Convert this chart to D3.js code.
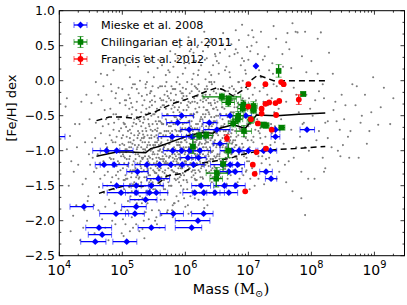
<!DOCTYPE html>
<html>
<head>
<meta charset="utf-8">
<script src="https://cdn.jsdelivr.net/npm/d3@7"></script>
<style>
  body { margin: 0; background: #fff; }
  text { font-family: "DejaVu Sans", sans-serif; }
</style>
</head>
<body>
<svg id="chart" width="407" height="305"></svg>
<script>
// simulated clusters, "log10(M)*100,[Fe/H]*100"
const simPoints = `
410,-37 417,-79 425,-62 430,-120 415,-150 422,-193 438,-210 445,-172 428,-95 442,-140 448,-55 435,-30 419,-115 447,-105 440,-185 433,-228 446,-165 412,-98
452,-88 455,-130 458,-60 461,-105 463,-152 466,-75 468,-198 470,-115 472,-42 474,-90 455,-178 459,-125 462,-20 465,-140 467,-100 469,-65 471,-160 473,-210 457,-82 460,-230 464,-118 470,-8 472,-135 474,-55 453,-110
476,-95 477,-130 478,-62 479,-170 480,-110 481,-40 482,-145 483,-85 484,-200 485,-120 486,-70 487,-155 488,-100 489,-25 490,-135 491,-80 492,-190 493,-115 494,-55 495,-160 496,-92 497,-128 498,-68 499,-218 476,-150 478,-102 480,-78 482,-5 484,-138 486,-112 488,-175 490,-48 492,-98 494,-140 496,-32 498,-108 485,-88 491,-122 487,-60 495,-72
500,-90 501,-125 502,-60 503,-155 504,-110 505,-35 506,-140 507,-80 508,-185 509,-100 510,-20 511,-130 512,-70 513,-165 514,-95 515,-48 516,-120 517,-210 518,-85 519,-145 520,-5 521,-105 522,-62 523,-175 524,-118 501,-78 503,-92 505,-135 507,-112 509,-160 511,-40 513,-88 515,-195 517,-128 519,-55 521,-150 523,-98 525,-72 502,-108 504,-142 506,-66 508,-230 510,-118 512,-25 514,-138 516,-90 518,-115 520,-170 522,-42 524,-135 500,-12 506,-102 512,-148 518,-60 524,-82 503,-180 509,-72 515,-10 521,-125 505,-205 511,-95 517,-148 523,-30 508,-50 514,-75
525,-105 526,-140 527,-75 528,-165 529,-115 530,-45 531,-130 532,-88 533,-190 534,-102 535,-28 536,-150 537,-68 538,-120 539,-95 540,-175 541,-55 542,-135 543,-82 544,-110 545,-15 546,-160 547,-98 548,-62 549,-128 526,-92 528,-118 530,-145 532,-72 534,-200 536,-108 538,-40 540,-125 542,-88 544,-155 546,-50 548,-112 527,-130 529,-85 531,-175 533,-60 535,-138 537,-100 539,-20 541,-115 543,-145 545,-70 547,-185 549,-92 526,-55 530,-95 534,-128 538,-158 542,-108 546,-78 528,0 532,-35 536,-122 540,-92 544,-135 548,-105 527,-215 531,-110 535,-80 539,-142 543,-65 547,-120 529,-150 533,-98 537,-10 541,-170 545,-125 549,-48 525,-78 535,-225 545,-100 530,-65 540,-112
550,-95 551,-130 552,-70 553,-160 554,-110 555,-40 556,-140 557,-85 558,-185 559,-100 560,-25 561,-125 562,-60 563,-150 564,-92 565,-115 566,-50 567,-170 568,-105 569,-78 570,-135 571,-15 572,-98 573,-145 574,-65 550,-118 552,-88 554,-132 556,-105 558,-58 560,-148 562,-120 564,-35 566,-95 568,-128 570,-72 572,-160 574,-110 551,-80 553,-45 555,-115 557,-135 559,-75 561,-90 563,-8 565,-150 567,-118 569,-55 571,-100 573,-125 550,5 554,-195 558,-110 562,-82 566,-142 570,-30 574,-90 552,-155 556,-68 560,-112 564,-130 568,-92 572,-48 551,-105 555,-88 559,-128 563,-62 567,-20 571,-140 553,-122 557,-100 561,-170 565,-78 569,-115 573,15 550,-140 560,-58 570,-108 555,-205 565,-98 552,-30 562,-138 572,-85 558,-42 568,-155 574,-120 556,18 566,-112
575,-90 576,-120 577,-65 578,-150 579,-105 580,-35 581,-130 582,-80 583,-175 584,-98 585,-20 586,-115 587,-55 588,-140 589,-88 590,-110 591,-45 592,-160 593,-100 594,-72 595,-125 596,-10 597,-95 598,-135 599,-60 575,-108 577,-82 579,-128 581,-100 583,-52 585,-142 587,-118 589,-30 591,-92 593,-125 595,-68 597,-155 599,-105 576,-75 578,-40 580,-110 582,-130 584,-70 586,-88 588,5 590,-145 592,-112 594,-50 596,-98 598,-120 575,12 579,-185 583,-105 587,-78 591,-138 595,-25 599,-85 577,-150 581,-62 585,-108 589,-125 593,-88 597,-42 576,-100 580,-85 584,-122 588,-58 592,-15 596,-132 578,-118 582,-95 586,-165 590,-72 594,-110 598,25 575,-135 585,-52 595,-102 580,-195 590,-92 577,-28 587,-132 597,-80 583,-38 593,-150 599,-115 581,20 591,-105 586,-2 594,-18 578,-8 588,32 596,10 584,38 590,-200
600,-85 601,-115 602,-60 603,-145 604,-100 605,-30 606,-125 607,-75 608,-165 609,-92 610,-15 611,-110 612,-50 613,-135 614,-82 615,-105 616,-40 617,-150 618,-95 619,-68 620,-120 621,-5 622,-90 623,-130 624,-55 600,-102 602,-78 604,-122 606,-95 608,-48 610,-138 612,-112 614,-25 616,-88 618,-118 620,-62 622,-148 624,-100 601,-70 603,-35 605,-105 607,-125 609,-65 611,-82 613,10 615,-140 617,-108 619,-45 621,-92 623,-115 600,18 604,-178 608,-100 612,-72 616,-132 620,-20 624,-80 602,-142 606,-58 610,-102 614,-120 618,-85 622,-38 601,-95 605,-80 609,-118 613,-52 617,-10 621,-128 603,-112 607,-90 611,-158 615,-68 619,-105 623,30 600,-130 610,-48 620,-98 605,-190 615,-88 602,-22 612,-128 622,-75 608,-32 618,-142 624,-110 606,25 616,-100 611,2 619,-12 603,-2 613,40 621,15 609,45 617,28 623,-160
625,-80 626,-110 627,-55 628,-140 629,-95 630,-25 631,-120 632,-70 633,-158 634,-88 635,-12 636,-105 637,-45 638,-130 639,-78 640,-100 641,-35 642,-145 643,-90 644,-62 645,-115 646,-2 647,-85 648,-125 649,-50 625,-98 627,-72 629,-118 631,-90 633,-42 635,-132 637,-108 639,-20 641,-82 643,-112 645,-58 647,-140 649,-95 626,-65 628,-30 630,-100 632,-120 634,-60 636,-78 638,12 640,-135 642,-102 644,-40 646,-88 648,-110 625,22 629,-170 633,-95 637,-68 641,-128 645,-15 649,-75 627,-138 631,-52 635,-98 639,-115 643,-80 647,-32 626,-90 630,-75 634,-112 638,-48 642,-5 646,-122 628,-105 632,-85 636,-150 640,-62 644,-100 648,35 625,-125 635,-42 645,-92 630,-182 640,-85 627,-18 637,-122 647,-70 633,-28 643,-138 631,30 641,8 636,48 644,22 628,42 639,55
650,-75 651,-105 652,-50 653,-135 654,-90 655,-20 656,-115 657,-65 658,-150 659,-82 660,-8 661,-100 662,-40 663,-125 664,-72 665,-95 666,-30 667,-140 668,-85 669,-58 670,-110 671,5 672,-80 673,-120 674,-45 650,-92 652,-68 654,-112 656,-85 658,-38 660,-128 662,-102 664,-15 666,-78 668,-108 670,-52 672,-135 674,-90 651,-60 653,-25 655,-95 657,-115 659,-55 661,-72 663,15 665,-130 667,-98 669,-35 671,-85 673,-105 650,28 654,-160 658,-90 662,-62 666,-122 670,-10 674,-70 652,-132 656,-48 660,-92 664,-110 668,-75 672,-28 655,40 665,20 660,52 670,35 653,10 667,60
675,-70 676,-100 677,-45 678,-130 679,-85 680,-15 681,-110 682,-60 683,-145 684,-78 685,-2 686,-95 687,-35 688,-120 689,-68 690,-90 691,-25 692,-135 693,-80 694,-52 695,-105 696,10 697,-75 698,-115 699,-40 675,-88 677,-62 679,-108 681,-80 683,-32 685,-122 687,-98 689,-10 691,-72 693,-102 695,-48 697,-128 699,-85 676,-55 678,-20 680,-92 682,-112 684,-50 686,-68 688,22 690,-125 692,-95 694,-30 696,-82 698,-100 680,45 690,32 685,58 695,15 678,38 698,48
700,-65 702,-95 704,-40 706,-125 708,-80 710,-10 712,-105 714,-55 716,-140 718,-75 720,5 722,-90 724,-30 701,-115 703,-62 705,-85 707,-20 709,-132 711,-70 713,-48 715,-100 717,15 719,-82 721,-118 723,-42 700,30 705,50 710,-150 715,38 720,-60 725,-95 708,62 718,-15 703,-140 713,22 722,-108 711,-38 706,72 716,-72 701,-25
725,-60 728,-95 731,-35 734,-120 737,-75 740,-5 743,-100 746,-50 749,-130 727,-80 730,-20 733,-110 736,-62 739,10 742,-88 745,-140 748,-40 726,35 732,48 738,25 744,60 747,-115 729,-128 735,-92 741,-45 725,-148 750,-70 737,-25 733,15 745,-8
752,-55 756,-90 760,-30 764,-115 768,-70 772,-10 776,-95 780,-45 784,-130 788,-60 792,-20 796,-100 755,20 765,45 775,70 785,35 795,-140 758,-120 770,-158 782,-80 790,-192 762,68 778,69 798,-40 753,-15
802,-50 808,-85 812,-15 818,-110 822,-60 828,40 832,-95 838,-30 845,-70 810,10 815,69 820,-130 835,-42 842,-100 848,-20
852,-55 858,-80 865,-5 870,-35 878,-60 885,-20 895,-45 906,-63 915,-10 860,-110 888,-90
`;
const simPointsExtra = `
503,-118 507,-52 511,-152 514,-32 518,-102 522,-138 526,-18 529,-122 533,-77 537,-48 541,-132 544,-92 548,-8 502,-142 506,-28 510,-88 513,-128 517,-5 521,-112 525,-148 528,-58 532,-168 536,-88 539,-2 543,-118 547,-35 505,-98 509,-172 516,-65 520,-92 527,-108 531,-22 534,-82 538,-138 542,-46 546,-15 549,-155 504,-62 512,-108 519,-180 524,-52 530,-125 540,-78 545,-142 515,-132 535,-55 501,-198 523,-12 537,-188 548,-72 508,-140 533,-110 544,-30 512,5 526,-170 541,12
551,-48 554,-118 557,-10 559,-138 562,-88 565,-28 568,-118 571,-62 574,-150 577,-18 579,-98 582,-50 585,-132 588,-78 591,-5 594,-88 597,-142 599,-28 552,-92 555,-62 558,-128 561,-38 564,-108 567,-72 570,-2 573,-98 576,-135 578,-58 581,-115 584,-12 587,-92 590,-38 593,-135 596,-62 598,-80 553,-170 560,-8 566,-155 572,-22 580,-178 586,-30 592,-72 598,-168 556,-82 563,-112 569,-40 575,-60 583,-140 589,-105 595,-48 557,30 563,22 569,8 576,42 584,28 591,48 597,35 559,-210 571,-188 589,-172 554,-78 582,-28 594,-125 566,-95 578,-82 587,-112
601,-52 604,-128 607,-18 609,-110 612,-88 615,-30 618,-108 621,-72 624,-138 627,-22 629,-82 632,-48 635,-118 638,-65 641,-2 644,-78 647,-128 649,-18 602,-88 605,-58 608,-118 611,-30 614,-98 617,-62 620,8 623,-88 626,-122 628,-48 631,-108 634,-8 637,-82 640,-32 643,-125 646,-52 648,-72 603,-155 610,-5 616,-142 622,-15 630,-162 636,-25 642,-65 648,-150 606,-72 613,-102 619,-32 625,-52 633,-128 639,-95 645,-40 607,42 613,28 619,48 626,55 634,32 641,60 647,38 609,-188 621,-170 639,-160 604,-70 632,-20 644,-112 616,-88 628,-72 637,-102 605,62 630,70 618,-45
651,-42 654,-105 657,-12 659,-95 662,-78 665,-22 668,-95 671,-58 674,-120 677,-12 679,-72 682,-38 685,-105 688,-55 691,0 694,-68 697,-110 699,-12 652,-78 655,-48 658,-100 661,-22 664,-85 667,-52 670,12 673,-75 676,-102 678,-38 681,-92 684,-2 687,-70 690,-28 693,-108 696,-42 698,-62 656,-138 666,-148 676,-128 686,-140 696,-130 653,25 663,45 673,52 683,40 693,28 703,42 713,55 723,30 708,-88 712,-28 716,-108 704,-52 719,-68 700,-102 724,-10 660,68 680,72 700,65 720,70 690,80
412,-25 418,-215 423,-130 427,-178 432,-62 437,-148 441,-88 444,-200 449,-120 451,-32 456,-218 462,-185 467,-28 473,-180 478,-228 483,-15 489,-205 494,-10 498,-185 443,-20 458,-2 466,10 476,8 486,15 496,25 505,22 515,30 525,20 535,35 545,28 502,-222 512,-215 522,-205 532,-212 542,-198 552,-200 562,-192 572,-185 582,-175 600,-180 615,-168 635,-178 652,-150 668,-162 684,-150 702,-155 712,-130 728,-112 742,-65 748,12 754,38 760,55 768,18 776,-20 786,-62 792,12 800,28 806,-28 812,-72 818,-5 826,-82 834,10 840,-58 846,-108 854,-35 862,-72 872,-8 880,-50 892,-72 898,5 910,-38 925,-62 930,-25 760,-145 772,-110 784,-168 790,-95 805,-140 822,-125 850,-92 875,-110 770,82 740,78 790,70 810,60 820,-25 826,-58
`;
const simPointsCore = `
532,-112 538,-72 544,-18 549,-102 553,-58 558,-92 562,-28 567,-132 571,-48 576,-108 580,-12 584,-62 589,-118 593,-32 598,-98 602,-42 606,-112 611,-68 615,-8 620,-78 624,-118 629,-38 633,-88 638,-2 642,-102 647,-58 652,-12 656,-68 661,-118 665,-48 670,-88 675,-28 679,-58
534,-52 540,-128 546,-82 551,-22 556,-125 561,-75 566,-35 572,-118 577,-85 581,-45 586,-72 591,-122 596,-18 600,-68 605,-38 609,-82 614,-122 619,-22 623,-58 628,-95 632,2 637,-115 641,-52 646,-28 650,-108 655,-72 659,-38 664,-95 668,-15 673,-62
536,-98 543,-38 548,-145 555,-72 560,-98 565,-62 570,-118 574,-25 579,-72 583,-112 588,-42 592,-95 597,-22 601,-118 606,-82 610,-58 615,-128 619,-78 624,-28 628,-122 633,-65 637,-32 642,-82 646,-108 651,-30 656,-92 660,-65 665,-115 669,-72 674,-8 678,-95
531,-82 537,-5 542,-62 547,-28 552,-132 557,-52 563,-102 568,-8 573,-72 578,-128 582,-12 587,-102 592,-55 596,-82 601,-12 605,-95 610,-130 614,-48 618,-22 623,-105 627,-62 631,-12 636,-88 640,-112 645,-72 649,-38 654,-108 658,-22 663,-82 667,-105 672,-45 676,-85
482,-112 486,-48 489,-88 493,-130 497,-52 501,-105 504,-28 508,-122 512,-82 516,-38 520,-128 524,-95 528,-52 485,-150 490,-18 495,-118 499,-82 503,-62 507,-98 511,-112 515,-158 519,-78 523,-52 527,-138
`;

// Mieske et al. 2008: log M, [Fe/H], log M low, log M high
const mieske = [
  [7.12, 0.21, 7.12, 7.12], [5.94, -0.50, 5.63, 6.13], [5.88, -0.60, 5.70, 6.07], [6.38, -0.60, 6.28, 6.50],
  [6.06, -0.70, 5.92, 6.23], [6.50, -0.70, 6.29, 6.71], [5.79, -0.80, 5.57, 6.02], [6.11, -0.80, 5.94, 6.31],
  [6.55, -0.90, 6.44, 6.66], [6.71, -0.50, 6.55, 6.87], [6.96, -0.50, 6.87, 7.05],
  [4.75, -1.00, 4.53, 4.96], [4.91, -1.00, 4.65, 5.17], [5.80, -1.00, 5.65, 5.95], [5.94, -1.00, 5.80, 6.10],
  [6.07, -1.00, 5.92, 6.25], [6.23, -1.00, 6.05, 6.40], [6.74, -1.00, 6.55, 6.90], [6.85, -1.00, 6.70, 7.00],
  [7.00, -1.00, 6.85, 7.15], [7.24, -1.00, 7.12, 7.35], [7.35, -1.00, 7.25, 7.45],
  [6.04, -1.10, 5.92, 6.16], [6.21, -1.10, 6.10, 6.33],
  [4.71, -1.20, 4.57, 4.85], [4.87, -1.20, 4.65, 5.10], [5.39, -1.20, 5.20, 5.58], [5.59, -1.20, 5.40, 5.78],
  [5.77, -1.20, 5.60, 5.95], [5.95, -1.20, 5.78, 6.12], [6.13, -1.20, 5.98, 6.30], [6.59, -1.20, 6.40, 6.75],
  [6.71, -1.20, 6.58, 6.82], [6.83, -1.20, 6.72, 6.94],
  [5.24, -1.30, 5.07, 5.41], [6.69, -1.30, 6.55, 6.80], [6.79, -1.30, 6.68, 6.90], [7.28, -1.30, 7.18, 7.38],
  [5.57, -1.40, 5.39, 5.75], [7.36, -1.40, 7.27, 7.45],
  [4.91, -1.50, 4.69, 5.14], [5.22, -1.50, 5.02, 5.42], [5.46, -1.50, 5.30, 5.65], [6.25, -1.50, 6.10, 6.40],
  [6.62, -1.50, 6.45, 6.78], [6.80, -1.50, 6.65, 6.95],
  [4.98, -1.60, 4.76, 5.20], [5.22, -1.60, 5.05, 5.40], [5.43, -1.60, 5.25, 5.60], [5.54, -1.60, 5.38, 5.72],
  [6.15, -1.60, 5.96, 6.34], [6.29, -1.60, 6.12, 6.45], [6.47, -1.60, 6.30, 6.62], [6.69, -1.60, 6.55, 6.83],
  [5.37, -1.70, 5.12, 5.55], [4.39, -1.80, 4.17, 4.54], [5.22, -1.80, 4.99, 5.38],
  [4.90, -1.90, 4.64, 5.10], [5.20, -1.90, 5.05, 5.35], [5.81, -1.90, 5.60, 5.97], [6.29, -1.90, 6.10, 6.44],
  [6.20, -2.00, 5.84, 6.39], [4.63, -2.10, 4.42, 4.83], [5.46, -2.10, 5.25, 5.68], [6.10, -2.10, 5.84, 6.26],
  [4.68, -2.20, 4.46, 4.83], [4.57, -2.30, 4.34, 4.74], [5.07, -2.30, 4.85, 5.23],
  [3.95, -0.80, 3.80, 4.09], [7.43, -0.70, 7.36, 7.50], [7.43, -0.80, 7.36, 7.50], [7.93, -0.70, 7.82, 8.05]
];

// Chilingarian et al. 2011: log M, [Fe/H], x err (dex), y err
const chilingarian = [
  [7.48, 0.14, 0.03, 0.09], [7.87, -0.19, 0.04, 0.03], [7.53, -0.67, 0.05, 0.03], [6.58, -0.23, 0.30, 0.05],
  [6.69, -0.26, 0.12, 0.05], [6.68, -0.31, 0.10, 0.06], [6.92, -0.34, 0.08, 0.06], [6.91, -0.40, 0.08, 0.05],
  [7.08, -0.36, 0.06, 0.06], [7.08, -0.42, 0.05, 0.05], [6.84, -0.50, 0.08, 0.06], [6.83, -0.55, 0.08, 0.05],
  [6.76, -0.61, 0.08, 0.05], [7.04, -0.56, 0.06, 0.05], [7.24, -0.63, 0.05, 0.04], [7.28, -0.64, 0.05, 0.04],
  [6.93, -0.72, 0.12, 0.08], [6.22, -0.79, 0.10, 0.05], [6.33, -0.78, 0.10, 0.05], [6.12, -0.94, 0.04, 0.10],
  [6.68, -1.00, 0.05, 0.10], [6.60, -1.19, 0.04, 0.08], [6.50, -1.32, 0.17, 0.08], [6.49, -1.40, 0.10, 0.12]
];

// Francis et al. 2012: log M, [Fe/H], y err
const francis = [
  [7.00, -0.05, 0.02], [7.27, -0.05, 0.02], [7.52, -0.02, 0.02], [7.56, -0.05, 0.02], [7.80, -0.27, 0.07],
  [7.49, -0.29, 0.02], [7.33, -0.31, 0.02], [7.27, -0.33, 0.02], [7.43, -0.32, 0.02], [7.00, -0.37, 0.02],
  [7.21, -0.40, 0.02], [7.04, -0.55, 0.02], [7.21, -0.47, 0.02], [7.15, -0.61, 0.02], [7.44, -0.49, 0.02],
  [7.37, -0.70, 0.02], [6.66, -0.82, 0.05], [7.13, -1.02, 0.02], [7.28, -0.97, 0.02], [7.07, -1.20, 0.02],
  [7.10, -1.33, 0.02], [6.95, -1.58, 0.02]
];

// running median and percentiles of the simulation
const medianLine = [[4.59,-1.08],[4.91,-1.02],[5.10,-1.02],[5.37,-1.03],[5.45,-0.97],[5.58,-0.94],[5.79,-0.87],
  [6.06,-0.78],[6.29,-0.74],[6.44,-0.75],[6.55,-0.68],[6.71,-0.64],[6.76,-0.63],[6.95,-0.68],[7.13,-0.49],
  [7.45,-0.50],[7.80,-0.48],[8.22,-0.46]];
const upperLine = [[4.59,-0.57],[4.79,-0.52],[5.00,-0.52],[5.21,-0.54],[5.37,-0.49],[5.53,-0.44],[5.79,-0.33],
  [6.00,-0.27],[6.13,-0.23],[6.34,-0.15],[6.50,-0.10],[6.60,-0.13],[6.76,-0.22],[6.95,-0.11],[7.05,0.01],
  [7.15,0.08],[7.25,0.05],[7.40,0.00],[7.80,0.00],[8.22,0.00]];
const lowerLine = [[4.63,-1.61],[4.79,-1.56],[5.05,-1.50],[5.32,-1.51],[5.45,-1.49],[5.58,-1.46],[5.71,-1.36],
  [5.92,-1.33],[6.13,-1.23],[6.23,-1.18],[6.45,-1.15],[6.71,-1.11],[6.87,-1.06],[7.13,-1.01],[7.50,-0.98],
  [7.74,-0.97],[8.22,-0.94]];

const yTicks = [1.0, 0.5, 0.0, -0.5, -1.0, -1.5, -2.0, -2.5];
const xTickExps = [4, 5, 6, 7, 8, 9];

const parsePts = s => s.trim().split(/\s+/).map(p => p.split(",").map(v => +v / 100));
const cloud = parsePts(simPoints).concat(parsePts(simPointsExtra), parsePts(simPointsCore));

const svg = d3.select("#chart");
const pL = 59.3, pR = 404.5, pT = 10.7, pB = 255.7;

const x = d3.scaleLog().domain([1e4, 3e9]).range([pL, pR]);
const y = d3.scaleLinear().domain([-2.5, 1.0]).range([pB, pT]);
const X = lm => x(Math.pow(10, lm));

svg.append("clipPath").attr("id", "clip")
  .append("rect").attr("x", pL).attr("y", pT).attr("width", pR - pL).attr("height", pB - pT);

const g = svg.append("g").attr("clip-path", "url(#clip)");

// gray simulated points
g.selectAll("circle.sim")
  .data(cloud)
  .join("circle")
  .attr("cx", d => X(d[0]))
  .attr("cy", d => y(d[1]))
  .attr("r", 1.05)
  .attr("fill", "#7c7c7c");

// median + percentile lines
const line = d3.line().x(d => X(d[0])).y(d => y(d[1]));
g.append("path").attr("d", line(upperLine)).attr("fill", "none").attr("stroke", "#000")
  .attr("stroke-width", 1.5).attr("stroke-dasharray", "6,4");
g.append("path").attr("d", line(lowerLine)).attr("fill", "none").attr("stroke", "#000")
  .attr("stroke-width", 1.5).attr("stroke-dasharray", "6,4");
g.append("path").attr("d", line(medianLine)).attr("fill", "none").attr("stroke", "#000")
  .attr("stroke-width", 1.5);

function hbar(sel, x0, x1, yy, color) {
  sel.append("line").attr("x1", x0).attr("x2", x1).attr("y1", yy).attr("y2", yy)
    .attr("stroke", color).attr("stroke-width", 1.3);
  [x0, x1].forEach(xx => sel.append("line").attr("x1", xx).attr("x2", xx)
    .attr("y1", yy - 3).attr("y2", yy + 3).attr("stroke", color).attr("stroke-width", 1).attr("opacity", 0.6));
}
function vbar(sel, xx, y0, y1, color) {
  sel.append("line").attr("x1", xx).attr("x2", xx).attr("y1", y0).attr("y2", y1)
    .attr("stroke", color).attr("stroke-width", 1.3);
  [y0, y1].forEach(yy => sel.append("line").attr("x1", xx - 3).attr("x2", xx + 3)
    .attr("y1", yy).attr("y2", yy).attr("stroke", color).attr("stroke-width", 1).attr("opacity", 0.6));
}

const diamond = "M0,-3.4L3.4,0L0,3.4L-3.4,0Z";

// Mieske
const gb = g.append("g");
mieske.forEach(d => { if (d[3] > d[2]) hbar(gb, X(d[2]), X(d[3]), y(d[1]), "#0000ff"); });
gb.selectAll("path.m").data(mieske).join("path")
  .attr("d", diamond)
  .attr("transform", d => `translate(${X(d[0])},${y(d[1])})`)
  .attr("fill", "#0000ff");

// Chilingarian
const gg = g.append("g");
chilingarian.forEach(d => {
  hbar(gg, X(d[0] - d[2]), X(d[0] + d[2]), y(d[1]), "#008000");
  vbar(gg, X(d[0]), y(d[1] + d[3]), y(d[1] - d[3]), "#008000");
});
gg.selectAll("rect.c").data(chilingarian).join("rect")
  .attr("x", d => X(d[0]) - 2.8).attr("y", d => y(d[1]) - 2.8)
  .attr("width", 5.6).attr("height", 5.6).attr("fill", "#008000");

// Francis
const gr = g.append("g");
francis.forEach(d => {
  if (d[2] > 0.03) vbar(gr, X(d[0]), y(d[1] + d[2]), y(d[1] - d[2]), "#ff0000");
});
gr.selectAll("circle.f").data(francis).join("circle")
  .attr("cx", d => X(d[0])).attr("cy", d => y(d[1])).attr("r", 2.9).attr("fill", "#ff0000");

// ticks (inside, all four sides)
const ax = svg.append("g").attr("stroke", "#000").attr("stroke-width", 0.8);
const minorX = [];
for (let e = 4; e <= 9; e++) for (let m = 2; m <= 9; m++) if (m * Math.pow(10, e) <= 3e9) minorX.push(m * Math.pow(10, e));
xTickExps.forEach(e => {
  const xx = x(Math.pow(10, e));
  ax.append("line").attr("x1", xx).attr("x2", xx).attr("y1", pB).attr("y2", pB - 4);
  ax.append("line").attr("x1", xx).attr("x2", xx).attr("y1", pT).attr("y2", pT + 4);
});
minorX.forEach(v => {
  const xx = x(v);
  ax.append("line").attr("x1", xx).attr("x2", xx).attr("y1", pB).attr("y2", pB - 2);
  ax.append("line").attr("x1", xx).attr("x2", xx).attr("y1", pT).attr("y2", pT + 2);
});
yTicks.forEach(v => {
  const yy = y(v);
  ax.append("line").attr("x1", pL).attr("x2", pL + 4).attr("y1", yy).attr("y2", yy);
  ax.append("line").attr("x1", pR).attr("x2", pR - 4).attr("y1", yy).attr("y2", yy);
});
for (let v = -2.5; v < 1.0; v += 0.5) {
  [1 / 6, 2 / 6].forEach(f => {
    const yy = y(v + f);
    ax.append("line").attr("x1", pL).attr("x2", pL + 2).attr("y1", yy).attr("y2", yy);
    ax.append("line").attr("x1", pR).attr("x2", pR - 2).attr("y1", yy).attr("y2", yy);
  });
}

svg.append("rect").attr("x", pL).attr("y", pT).attr("width", pR - pL).attr("height", pB - pT)
  .attr("fill", "none").attr("stroke", "#000").attr("stroke-width", 1);

// tick labels
svg.selectAll("text.yt").data(yTicks).join("text")
  .attr("x", 55).attr("y", d => y(d) + 4.3)
  .attr("text-anchor", "end").attr("font-size", 12.5)
  .text(d => d3.format(".1f")(d).replace("-", "\u2212"));

xTickExps.forEach(e => {
  const t = svg.append("text").attr("x", x(Math.pow(10, e))).attr("y", 274.5)
    .attr("text-anchor", "middle").attr("font-size", 14);
  t.append("tspan").text("10");
  t.append("tspan").attr("font-size", 9.8).attr("dy", -6.5).text(e);
});

// axis labels
svg.append("text").attr("transform", "translate(16,108) rotate(-90)")
  .attr("text-anchor", "middle").attr("font-size", 13).text("[Fe/H] dex");
const xl = svg.append("text").attr("x", 231).attr("y", 294).attr("text-anchor", "middle").attr("font-size", 14.5);
xl.append("tspan").text("Mass ");
xl.append("tspan").attr("font-family", "DejaVu Serif").attr("font-size", 15).text("(M");
xl.append("tspan").attr("font-family", "DejaVu Serif").attr("font-size", 10).attr("dy", 3).text("\u2299");
xl.append("tspan").attr("font-family", "DejaVu Serif").attr("font-size", 15).attr("dy", -3).text(")");

// legend
const legend = [
  { label: "Mieske et al. 2008", color: "#0000ff", shape: "D", yerr: false },
  { label: "Chilingarian et al. 2011", color: "#008000", shape: "s", yerr: true },
  { label: "Francis et al. 2012", color: "#ff0000", shape: "o", yerr: true }
];
legend.forEach((it, i) => {
  const cy = 25 + i * 17, cx = 80.5;
  const lg = svg.append("g");
  hbar(lg, cx - 6.5, cx + 6.5, cy, it.color);
  if (it.yerr) vbar(lg, cx, cy - 5.5, cy + 5.5, it.color);
  if (it.shape === "D") lg.append("path").attr("d", diamond).attr("transform", `translate(${cx},${cy})`).attr("fill", it.color);
  if (it.shape === "s") lg.append("rect").attr("x", cx - 2.8).attr("y", cy - 2.8).attr("width", 5.6).attr("height", 5.6).attr("fill", it.color);
  if (it.shape === "o") lg.append("circle").attr("cx", cx).attr("cy", cy).attr("r", 2.9).attr("fill", it.color);
  svg.append("text").attr("x", 101).attr("y", cy + 4).attr("font-size", 11.2).text(it.label);
});
</script>
</body>
</html>
